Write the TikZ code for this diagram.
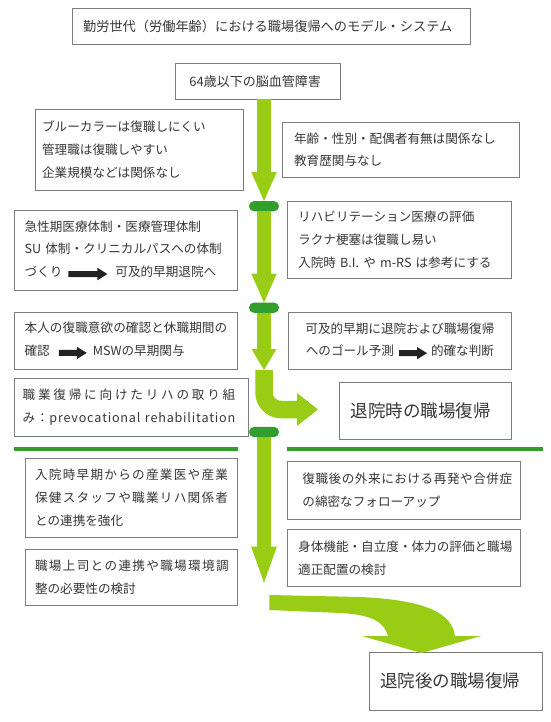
\documentclass[tikz,border=0pt]{standalone}
\usepackage{fontspec}
\setmainfont{Noto Sans CJK JP}
\usetikzlibrary{arrows.meta,calc}
\definecolor{ag}{RGB}{153,204,20}
\definecolor{pg}{RGB}{51,158,46}
\definecolor{bx}{RGB}{125,125,125}
\definecolor{tx}{RGB}{55,55,55}
\definecolor{blk}{RGB}{34,34,34}
\def\sprdA#1{\ifx\relax#1\else#1\expandafter\sprdB\fi}
\def\sprdB#1{\ifx\relax#1\else\hfill#1\expandafter\sprdB\fi}
\newcommand\spl[2]{\makebox[#1][s]{\sprdA#2\relax}}
\newcommand\barr[1]{\tikz[x=1pt,y=1pt,baseline=-2.6pt]\fill[blk] (0,-3)--(#1-10,-3)--(#1-10,-6.2)--(#1,0)--(#1-10,6.2)--(#1-10,3)--(0,3)--cycle;}
\tikzset{
  box/.style={draw=bx, line width=0.9pt, text=tx, anchor=north west, inner ysep=0pt, outer sep=0pt,
    font=\fontsize{12.6}{22.7}\selectfont, align=left},
  bigtxt/.style={font=\fontsize{17.5}{20}\selectfont},
  pill/.style={fill=pg, rounded corners=5pt, minimum width=30pt, minimum height=10.3pt, inner sep=0pt, outer sep=0pt},
  gar/.style={draw=ag, line width=13.4pt},
  sepline/.style={draw=pg, line width=3.3pt},
}
\begin{document}
\begin{tikzpicture}[x=1pt,y=-1pt]
\useasboundingbox (0,0) rectangle (550,722);
\fill[white] (0,0) rectangle (550,722);

% pills
\node[pill] (p1) at (264,206.2) {};
\node[pill] (p2) at (264,307.7) {};
\node[pill] (p3) at (264,432) {};

% boxes
\node[box, font=\fontsize{13.2}{16}\selectfont, text width=377.2pt, inner xsep=10.5pt, minimum height=35.5pt] (title) at (72.6,8.5)
  {勤労世代（労働年齢）における職場復帰へのモデル・システム};
\node[box, font=\fontsize{13}{16}\selectfont, text width=136.5pt, inner xsep=14.4pt, minimum height=36pt] (b64) at (175,63.3)
  {64歳以下の脳血管障害};
\node[box, text width=194pt, inner xsep=7pt, minimum height=80.7pt] (L1) at (35.1,109.3)
  {ブルーカラーは復職しにくい\\管理職は復職しやすい\\企業規模などは関係なし};
\node[box, text width=213.5pt, inner xsep=11.6pt, minimum height=55.7pt] (R1) at (282.5,122)
  {年齢・性別・配偶者有無は関係なし\\教育歴関与なし};
\node[box, text width=202.6pt, inner xsep=10.6pt, minimum height=80.8pt] (L2) at (14,210)
  {急性期医療体制・医療管理体制\\\mbox{SU~体制・クリニカルパスへの体制}\\\mbox{づくり\hspace{6pt}\barr{39}\hspace{8pt}可及的早期退院へ}};
\node[box, text width=202.8pt, inner xsep=10.5pt, minimum height=76.8pt] (R2) at (287.7,201.5)
  {リハビリテーション医療の評価\\ラクナ梗塞は復職し易い\\\mbox{入院時~B.I.~や~m-RS~は参考にする}};
\node[box, text width=202.6pt, inner xsep=10.6pt, minimum height=57.3pt] (L3) at (14,312)
  {\spl{202.6pt}{本人の復職意欲の確認と休職期間の}\\\mbox{確認\hspace{9pt}\barr{28}\hspace{6pt}MSWの早期関与}};
\node[box, align=center, text width=203.2pt, inner xsep=10pt, minimum height=56.8pt] (R3) at (288.3,312.5)
  {可及的早期に退院および職場復帰\\\mbox{へのゴール予測\hspace{5pt}\barr{28}\hspace{4pt}的確な判断}};
\node[box, text width=217.6pt, inner xsep=8pt, minimum height=57.5pt] (L4) at (14.7,378.5)
  {\spl{212.6pt}{職業復帰に向けたリハの取り組}\\\makebox[212.6pt][s]{\sprdA み：prevocational\relax\hfill\hspace{3pt}\hfill\sprdA rehabilitation\relax}};
\node[box, bigtxt, text width=149.1pt, inner xsep=11.6pt, minimum height=56.7pt] (T1) at (339.2,382.3)
  {退院時の職場復帰};
\node[box, text width=192.9pt, inner xsep=9.8pt, minimum height=78.8pt] (L5) at (25.3,458.5)
  {\spl{192.9pt}{入院時早期からの産業医や産業}\\\spl{192.9pt}{保健スタッフや職業リハ関係者}\\との連携を強化};
\node[box, text width=203.1pt, inner xsep=14.7pt, minimum height=57.3pt] (R5) at (287.7,461.7)
  {\spl{209.8pt}{復職後の外来における再発や合併症}\\の綿密なフォローアップ};
\node[box, text width=193.1pt, inner xsep=9.7pt, minimum height=56.2pt] (L6) at (25.3,549.3)
  {\spl{193.6pt}{職場上司との連携や職場環境調}\\整の必要性の検討};
\node[box, text width=211.5pt, inner xsep=10.5pt, minimum height=57.4pt] (R6) at (287.7,529.3)
  {\spl{213.3pt}{身体機能・自立度・体力の評価と職場}\\適正配置の検討};
\node[box, bigtxt, text width=151.4pt, inner xsep=10.6pt, minimum height=57.3pt] (T2) at (369.4,652.7)
  {退院後の職場復帰};

% junction coordinates
\coordinate (j1) at (264,370);
\coordinate (k1) at (318,409.5);
\coordinate (j2) at (264,582.7);

% green arrows
\draw[gar, -{Triangle[width=25.5pt,length=29pt,line width=0pt]}] (p1.north |- b64.south) -- (p1.north);
\draw[gar, -{Triangle[width=25.5pt,length=29pt,line width=0pt]}] (p1.south) -- (p2.north);
\draw[gar, -{Triangle[width=25pt,length=21pt,line width=0pt]}] (p2.south) -- (j1);
\draw[draw=ag, line width=17.5pt, rounded corners=17pt, -{Triangle[width=33pt,length=21pt,line width=0pt]}] (j1) |- (k1);
\draw[gar, -{Triangle[width=25.7pt,length=36pt,line width=0pt]}] (p3.south) -- (j2);
\fill[ag] (269.3,595) -- (360,597) .. controls (428,600) and (452,614) .. (455,636) -- (481,636) -- (421.5,653) -- (362,636) -- (388,636) .. controls (384,622) and (372,614.5) .. (340,613) -- (269.3,610) -- cycle;

% separators
\draw[sepline] (14,449) -- (238.3,449);
\draw[sepline] (287,449) -- (543,449);
\end{tikzpicture}
\end{document}
